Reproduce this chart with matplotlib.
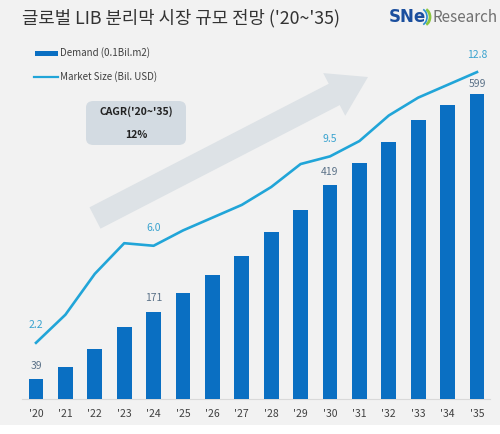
import matplotlib
matplotlib.use("Agg")
import matplotlib.pyplot as plt
from matplotlib.patches import FancyBboxPatch, Rectangle, Polygon, Arc
from matplotlib.lines import Line2D
import numpy as np

plt.rcParams['font.family'] = ['Noto Sans CJK KR', 'DejaVu Sans']

years = ["'20", "'21", "'22", "'23", "'24", "'25", "'26", "'27",
         "'28", "'29", "'30", "'31", "'32", "'33", "'34", "'35"]
demand = [39, 62, 99, 141, 171, 207, 243, 280, 328, 371, 419, 462, 503, 547, 576, 599]
market = [2.2, 3.3, 4.9, 6.1, 6.0, 6.6, 7.1, 7.6, 8.3, 9.2, 9.5, 10.1, 11.1, 11.8, 12.3, 12.8]
label_idx = [0, 4, 10, 15]

W, H = 500, 434
fig = plt.figure(figsize=(W/100, H/100), dpi=100, facecolor='#f2f2f2')

def fx(px):
    return px / W

def fy(py):
    return 1 - py / H

# white strip at bottom
fig.patches.append(Rectangle((0, 0), 1, fy(425), transform=fig.transFigure,
                             facecolor='white', edgecolor='none', zorder=0))

# big background arrow (figure pixel coords)
tail = np.array([95.0, 218.0])
tip = np.array([368.0, 77.0])
d = tip - tail
L = np.hypot(*d)
u = d / L
n = np.array([u[1], -u[0]])
shaft_w = 24
head_w = 48
head_len = 38
b = tip - u * head_len
pts = [tail + n*shaft_w/2, b + n*shaft_w/2, b + n*head_w/2, tip,
       b - n*head_w/2, b - n*shaft_w/2, tail - n*shaft_w/2]
pts_fig = [(fx(p[0]), fy(p[1])) for p in pts]
fig.patches.append(Polygon(pts_fig, closed=True, transform=fig.transFigure,
                           facecolor='#dde2e6', edgecolor='none', zorder=1))

# axes placement
left_px, right_px = 22, 490
base_px, top_px = 399, 40
ax = fig.add_axes([fx(left_px), fy(base_px), fx(right_px - left_px), (base_px - top_px) / H])
ax.set_facecolor('none')
ax.set_zorder(2)
x = np.arange(len(years))
spacing = 29.4
ax.set_xlim(-(36 - left_px) / spacing, 15 + (right_px - 477) / spacing)
ax.set_ylim(0, (base_px - top_px) / 0.510)
ax.bar(x, demand, width=0.51, color='#0a6fc2', zorder=3)
for s in ['top', 'right', 'left']:
    ax.spines[s].set_visible(False)
ax.spines['bottom'].set_color('#d9d9d9')
ax.spines['bottom'].set_linewidth(0.8)
ax.set_yticks([])
ax.set_xticks(x)
ax.set_xticklabels(years, fontsize=7.5, color='#404040')
ax.tick_params(axis='x', length=0, pad=7)

for i in label_idx:
    off = 6 if i != 15 else 3
    ax.annotate(str(demand[i]), (x[i], demand[i]), xytext=(0, off),
                textcoords='offset points', ha='center', va='bottom',
                fontsize=7.5, color='#5b7288', zorder=5)

ax2 = ax.twinx()
ax2.set_ylim(0, (base_px - top_px) / 25.54)
ax2.plot(x, market, color='#21a5d8', lw=1.9, zorder=4)
ax2.set_yticks([])
for s in ['top', 'right', 'left', 'bottom']:
    ax2.spines[s].set_visible(False)
for i in label_idx:
    ax2.annotate(f"{market[i]:.1f}", (x[i], market[i]), xytext=(0, 9),
                 textcoords='offset points', ha='center', va='bottom',
                 fontsize=7.5, color='#3aa3cf')

# title
fig.text(fx(22), fy(18), "글로벌 LIB 분리막 시장 규모 전망 ('20~'35)", fontsize=12.8,
         color='#333333', ha='left', va='center')

# logo
fig.text(fx(389), fy(17), "SNe", fontsize=12, fontweight='bold', color='#1b4f9e',
         ha='left', va='center', family=['DejaVu Sans'])
fig.patches.append(Arc((fx(423), fy(17)), fx(14), 17/H, theta1=-70, theta2=70,
                       transform=fig.transFigure, color='#8cc63f', lw=2))
fig.patches.append(Arc((fx(420), fy(17)), fx(14), 17/H, theta1=-70, theta2=70,
                       transform=fig.transFigure, color='#2a8fd0', lw=1.2))
fig.text(fx(433), fy(18), "Research", fontsize=11, color='#707070',
         ha='left', va='center')

# legend
fig.patches.append(Rectangle((fx(35), fy(55.5)), fx(23), 5/H, transform=fig.transFigure,
                             facecolor='#0a6fc2', edgecolor='none'))
fig.text(fx(60), fy(53), "Demand (0.1Bil.m2)", fontsize=7, color='#404040',
         ha='left', va='center')
fig.lines.append(Line2D([fx(34), fx(58)], [fy(77), fy(77)], transform=fig.transFigure,
                        color='#21a5d8', lw=1.6))
fig.text(fx(60), fy(77), "Market Size (Bil. USD)", fontsize=7, color='#404040',
         ha='left', va='center')

# CAGR box
fig.patches.append(FancyBboxPatch((fx(86), fy(145)), fx(100), 44/H,
                                  boxstyle="round,pad=0,rounding_size=0.015",
                                  transform=fig.transFigure, facecolor='#d3dbe2',
                                  edgecolor='none', zorder=2))
fig.text(fx(136), fy(112), "CAGR('20~'35)", fontsize=7.5, fontweight='bold',
         color='#222222', ha='center', va='center', zorder=3)
fig.text(fx(136), fy(135), "12%", fontsize=7.5, fontweight='bold',
         color='#222222', ha='center', va='center', zorder=3)

fig.savefig("out.png", dpi=100, facecolor=fig.get_facecolor())
